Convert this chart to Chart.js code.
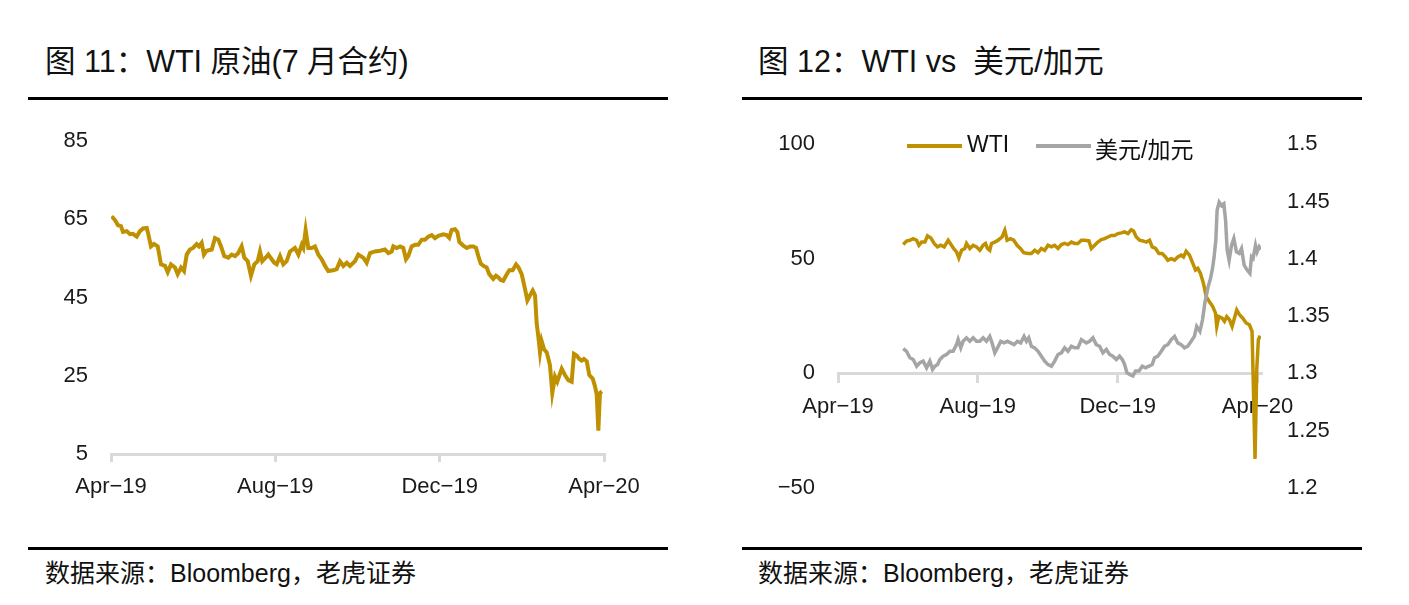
<!DOCTYPE html>
<html>
<head>
<meta charset="utf-8">
<script src="https://cdn.jsdelivr.net/npm/chart.js@4.4.0/dist/chart.umd.min.js"></script>
<style>
  body { margin: 0; width: 1409px; height: 605px; background: #fff; position: relative; overflow: hidden;
         font-family: "Liberation Sans", Arial, "Noto Sans CJK SC", sans-serif; color: #111; }
  .titulo { position: absolute; top: 37px; font-size: 30.5px; white-space: nowrap; }
  .regla { position: absolute; height: 3px; background: #000; }
  .fuente { position: absolute; top: 553px; font-size: 25px; white-space: nowrap; }
  canvas { position: absolute; }
  .leyenda { position: absolute; top: 131px; font-size: 23px; white-space: nowrap; }
  .muestra { position: absolute; height: 4px; top: 144px; }
</style>
</head>
<body>
<div class="titulo" style="left:45px">图 11：WTI 原油(7 月合约)</div>
<div class="regla" style="left:28px; width:640px; top:97px"></div>
<div class="regla" style="left:28px; width:640px; top:547px"></div>
<div class="fuente" style="left:45px">数据来源：Bloomberg，老虎证券</div>
<canvas id="graficoJulio" style="left:28px; top:105px" width="640" height="430"></canvas>

<div class="titulo" style="left:758px">图 12：WTI vs &nbsp;美元/加元</div>
<div class="regla" style="left:742px; width:620px; top:97px"></div>
<div class="regla" style="left:742px; width:620px; top:547px"></div>
<div class="fuente" style="left:758px">数据来源：Bloomberg，老虎证券</div>
<canvas id="graficoCad" style="left:742px; top:105px" width="620" height="430"></canvas>
<div class="muestra" style="left:907px; width:55px; background:#BF9000"></div>
<div class="leyenda" style="left:967px">WTI</div>
<div class="muestra" style="left:1036px; width:55px; background:#A5A5A5"></div>
<div class="leyenda" style="left:1095px">美元/加元</div>

<script>
// Días desde el 1 de abril de 2019
var diasJulio = [0.5,3,5.2,7.4,8.9,11.7,14.1,16.3,19.1,21.5,
  23.8,26.5,27.5,29.7,31.9,34.7,37.1,40.1,42.1,44.5,
  47.5,49.5,52,54.2,56.2,58.6,60.9,63.6,65.3,67.3,
  69,71,74.8,77.2,79.7,81.7,84.1,87.1,89.6,92.1,
  94.5,97,99,101.5,103.9,106.4,108.9,110.6,112.3,114.8,
  116.8,119.3,121.2,123,125.5,127.9,130.4,132.9,136.6,139.1,
  141.6,142.8,144.5,146.5,149,151.4,153.9,156.4,158.9,161.3,
  165,167.6,170,172.5,175,177.4,181.1,183.6,187.3,189.8,
  192.3,196,199.7,203.4,205.9,208.4,209.6,212.1,214.6,217,
  219,220.7,223.2,225.7,228.1,230.7,233.1,235.6,238.1,240.5,
  243,246.7,249.2,251.1,252.9,255.4,257.1,258.6,261.5,264.1,
  266.5,269,271,272.7,274.5,276.4,278.9,280.8,283.8,285.8,
  287.5,289.3,291.2,293.2,295.7,298.2,300.7,302.4,304.9,307.3,
  309.1,311.1,313.1,314.8,316,317.2,318.5,319.7,321.5,323.5,
  325.9,327.6,329.6,331.3,334.6,337,339.5,342,343.7,345.7,
  347.7,349.4,351.1,353.2,355.1,357.6,359.3,360.6,361.8,363,
  364.5];
var wtiJulio = [65.8,64.8,63.5,63.3,61.8,62,61.2,61.3,60.6,62,
  62.7,62.8,61.5,58.1,58.7,58.1,53.5,53.1,51.5,53.5,
  52.7,51,52.7,51.8,56,57.3,57.7,58.7,58.1,59,
  56,57,57.3,60.2,59.8,58.1,55.6,55.2,56,55.6,
  56.4,58.1,55.2,54.3,50.6,53.5,54.3,56.8,54.3,55.2,
  56,54.8,53.9,53.5,55.6,53.5,54.3,56.8,57.7,56,
  58.5,57.7,62.3,57.7,57.7,58.1,56,54.8,53.1,51.8,
  52,52.3,54.3,53.1,53.9,53.1,54.3,56,55.2,53.9,
  56.4,56.8,57,57.3,56.4,56.8,58.1,57.7,58.1,57.7,
  54.8,55.6,58.1,58.5,58.5,59.8,59.8,60.6,61,60.2,
  60.8,61.2,61,60.3,62.3,62.5,61.8,59.2,58.3,57.7,
  58.1,58.1,57.7,55.6,53.7,53.1,52.7,51,49.8,50.6,
  50.2,49.5,49.3,50.6,52,52,53.5,52.8,51,47.3,
  44.3,45.6,46.8,45.6,38.5,35.2,31,33.9,31.8,31,
  27.7,20.6,24.8,23.5,26.8,25.2,23.9,23.5,30.6,30.2,
  29.3,28.9,29.3,28.7,25.2,24.3,22.3,20.2,11,20.6,
  21];

var diasWti = [56.9,59.8,62.7,65.6,68.6,70.6,72.9,75.8,78.1,81,
  83.9,86.8,89.7,92.6,96.1,99,101.3,103.4,105.4,107.8,
  110.6,112.1,115,117.9,120.8,123.7,126.6,128.7,130.4,132.4,
  133.9,136.8,139.6,143.1,145.5,147.5,150.4,153.3,156.2,159.1,
  162,165.8,168.7,171.6,174.5,177.4,180.3,183.2,186.2,189,
  191.9,194.9,197.7,200.6,203.6,206.4,209.3,212.3,215.2,218.9,
  221,223.9,226.7,229.7,232.6,235.5,238.4,241.3,244.2,247.1,
  250,252.9,255.8,257.8,260.2,263.1,266,268.9,271.8,274.1,
  277,279.9,282.8,285.7,287.7,290.7,293.6,296.4,299.4,301.4,
  303.7,306.6,309.5,311.9,313.9,316.2,318.8,321.2,324,326.9,
  329.3,330.4,332.2,335.1,337.1,339.1,341.5,343.8,345.8,347.8,
  350.2,353.1,356,358.9,361.2,362.4,363.8,365.3,366.7,368.2];
var wti = [56.2,57.7,58.1,58.8,58.1,55.9,57.3,57.3,60,59.1,
  56.7,55.2,55.9,55.2,58.1,55.9,54.2,53,50.4,53.7,
  54.5,56.7,54.5,55.9,55.2,53.7,55.9,56.7,54.5,53.7,
  56.7,57.3,58.1,59.5,62.4,58.1,58.8,58.1,55.9,54.5,
  52.7,52.3,52.3,53.7,52.7,54.5,53.7,55.9,55.2,55.9,
  54.5,56.2,56.7,56.2,57.3,56.7,56.7,58.1,58.1,57.8,
  54.5,55.9,57.3,58.4,58.8,59.5,60.2,60.2,61,61.3,
  61.7,61,62.7,62.1,59.5,58.1,57.8,57.3,58.1,55.2,
  54.5,52.3,52.3,50.8,49.4,50.1,49.4,50.8,51.6,50.8,
  53.3,51.6,48,45.1,45.8,43.6,39.3,33.5,31.3,29.2,
  26.3,20.5,24.8,24.1,22.7,24.8,23.4,20.5,24.1,27.7,
  25.6,24.1,22,21.2,18.3,-6.9,-37.3,1.7,14.7,16.5];

var diasCad = [56.9,59.8,62.7,65.6,68.6,71.4,74.3,77.3,80.1,82.5,
  84.5,86.8,88.9,91.7,94.7,97.6,100.4,103.4,104.8,107.1,
  109.1,112.1,115,117.9,120.8,123.7,126.6,129.5,132.4,134.4,
  136.8,139.1,142,144.9,147.8,150.7,153.6,156.5,159.4,162.3,
  164.4,166.4,168.7,171.6,174.5,177.4,180.3,183.2,186.2,189,
  191.9,194.9,197.7,200.6,203.6,206.4,209.3,212.3,216.6,219.5,
  222.4,225.3,228.2,231.1,234.1,236.9,239.8,242.8,245.6,248,
  250,252,254.4,257.2,259.6,262.5,265.4,268.3,271.2,274.1,
  276.1,279,282,284.8,287.7,290.7,293.6,296.4,299.4,302.3,
  305.1,308.1,310.9,312.9,315.7,318,320,322.9,325,326.7,
  328.1,329.6,330.7,332.5,334.6,336.6,338.1,339.5,341.2,343.3,
  345.3,347.6,349.9,352,354.3,356.9,359.3,360.7,362.1,364.2,
  365.6,367.4,368.8];
var usdCad = [1.3217,1.3193,1.3136,1.3121,1.3063,1.3093,1.3107,1.3049,1.3107,1.3035,
  1.3063,1.3078,1.3121,1.315,1.3165,1.3193,1.3193,1.3251,1.3295,1.3223,
  1.328,1.331,1.328,1.331,1.328,1.328,1.331,1.328,1.3323,1.3266,
  1.318,1.3223,1.328,1.3266,1.328,1.3266,1.3251,1.328,1.3266,1.3323,
  1.328,1.331,1.3237,1.3223,1.3193,1.315,1.3107,1.3078,1.3063,1.3107,
  1.3165,1.318,1.3223,1.3193,1.3237,1.3223,1.3223,1.3295,1.3266,1.328,
  1.331,1.3251,1.3237,1.318,1.3208,1.3165,1.315,1.3121,1.315,1.3121,
  1.3078,1.3006,1.2991,1.2977,1.302,1.302,1.3063,1.3049,1.3063,1.3078,
  1.3136,1.315,1.3193,1.3237,1.3251,1.3295,1.3323,1.3266,1.3251,1.3223,
  1.3237,1.328,1.3323,1.341,1.3367,1.3468,1.3613,1.3757,1.383,1.3916,
  1.4017,1.4162,1.4422,1.4494,1.4465,1.448,1.4335,1.4075,1.3988,1.4118,
  1.4177,1.406,1.4047,1.409,1.3945,1.3902,1.3873,1.4017,1.4003,1.4118,
  1.406,1.4104,1.4081];

var diasEtiquetas = [0, 122, 244, 366];
var etiquetasMes = ["Apr\u221219", "Aug\u221219", "Dec\u221219", "Apr\u221220"];
var ticksJulio = [5, 25, 45, 65, 85];

var dorado = '#BF9000';
var gris = '#A5A5A5';
var ejeGris = '#D9D9D9';

Chart.defaults.font.family = '"Liberation Sans", Arial, sans-serif';
Chart.defaults.font.size = 22;
Chart.defaults.color = '#1a1a1a';
Chart.defaults.animation = false;

function puntos(xs, ys) {
    return xs.map(function (d, i) { return { x: d, y: ys[i] }; });
}

function ejeX(max, extra) {
    return Object.assign({
        type: 'linear',
        min: 0,
        max: max,
        afterBuildTicks: function (s) { s.ticks = diasEtiquetas.map(function (v) { return { value: v }; }); },
        ticks: {
            autoSkip: false,
            maxRotation: 0,
            padding: 12,
            callback: function (v) { return etiquetasMes[diasEtiquetas.indexOf(v)]; }
        },
        grid: { display: true, drawOnChartArea: false, drawTicks: true, tickLength: 8, color: ejeGris, lineWidth: 3 },
        border: { display: true, color: ejeGris, width: 3 }
    }, extra);
}

// Gráfico izquierdo: WTI contrato de julio
new Chart(document.getElementById('graficoJulio').getContext('2d'), {
    type: 'line',
    data: {
        datasets: [{
            label: 'WTI',
            data: puntos(diasJulio, wtiJulio),
            borderColor: dorado,
            borderWidth: 4,
            pointRadius: 0,
            tension: 0,
            fill: false
        }]
    },
    options: {
        responsive: false,
        layout: { padding: { left: 0, right: 64, top: 29, bottom: 21 } },
        plugins: { legend: { display: false }, tooltip: { enabled: false } },
        scales: {
            x: ejeX(366, { afterFit: function (s) { s.height = 60; } }),
            y: {
                min: 5,
                max: 85,
                afterBuildTicks: function (s) { s.ticks = ticksJulio.map(function (v) { return { value: v }; }); },
                afterFit: function (s) { s.width = 83; },
                ticks: { padding: 23 },
                grid: { display: false, drawTicks: false },
                border: { display: false }
            }
        }
    }
});

// Gráfico derecho: WTI frente a USD/CAD
new Chart(document.getElementById('graficoCad').getContext('2d'), {
    type: 'line',
    data: {
        datasets: [{
            label: '美元/加元',
            data: puntos(diasCad, usdCad),
            yAxisID: 'y1',
            borderColor: gris,
            borderWidth: 3.5,
            pointRadius: 0,
            tension: 0,
            fill: false
        }, {
            label: 'WTI',
            data: puntos(diasWti, wti),
            yAxisID: 'y',
            borderColor: dorado,
            borderWidth: 3.5,
            pointRadius: 0,
            tension: 0,
            fill: false
        }]
    },
    options: {
        responsive: false,
        layout: { padding: { left: 0, right: 0, top: 38, bottom: 47 } },
        plugins: { legend: { display: false }, tooltip: { enabled: false } },
        scales: {
            x: ejeX(369, { position: { y: 0 } }),
            y: {
                position: 'left',
                min: -50,
                max: 100,
                ticks: {
                    stepSize: 50,
                    padding: 23,
                    callback: function (v) { return String(v).replace('-', '\u2212'); }
                },
                afterFit: function (s) { s.width = 96; },
                grid: { display: false, drawTicks: false },
                border: { display: false }
            },
            y1: {
                position: 'right',
                min: 1.2,
                max: 1.5,
                ticks: {
                    stepSize: 0.05,
                    padding: 26,
                    callback: function (v) { return String(+v.toFixed(2)); }
                },
                afterFit: function (s) { s.width = 101; },
                grid: { display: false, drawTicks: false },
                border: { display: false }
            }
        }
    }
});
</script>
</body>
</html>
